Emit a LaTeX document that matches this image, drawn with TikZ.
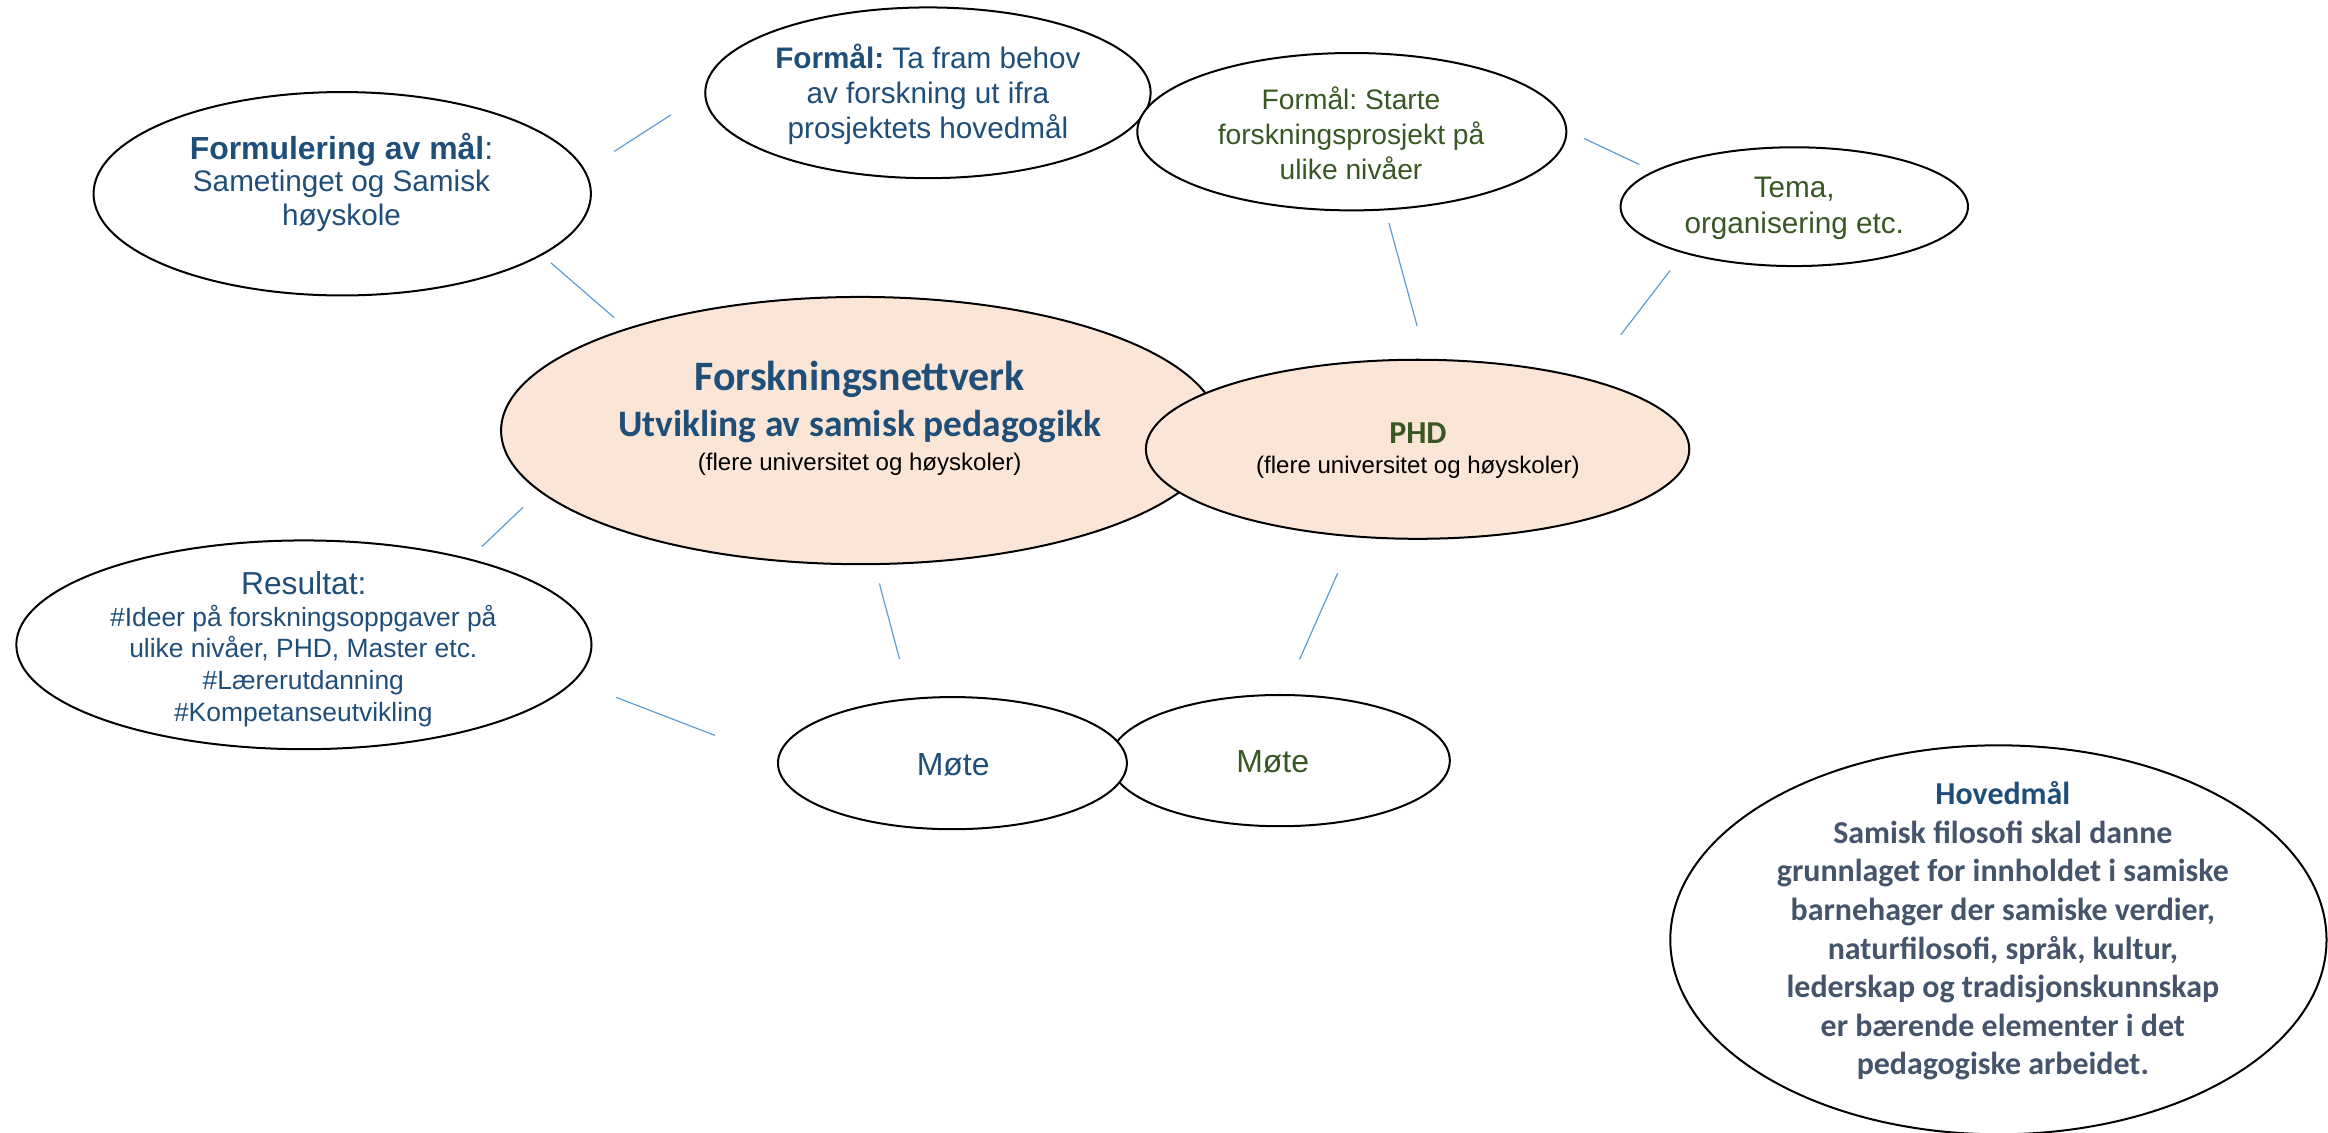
\documentclass[tikz,border=0pt]{standalone}
\usepackage{fontspec}
\setmainfont{Liberation Sans}
\newfontfamily\calibri{Carlito}
\usetikzlibrary{shapes.geometric}
\definecolor{tblue}{HTML}{1F4E79}
\definecolor{tgreen}{HTML}{385723}
\definecolor{tslate}{HTML}{44546A}
\definecolor{hubfill}{HTML}{FBE5D6}
\definecolor{linkblue}{HTML}{5B9BD5}
\newcommand{\fs}[2]{\fontsize{#1}{#2}\selectfont}
\frenchspacing
\begin{document}
\begin{tikzpicture}[x=1pt,y=-1pt,
  bubble/.style={ellipse, draw=black, line width=1.35pt, fill=white, inner sep=0pt},
  hub/.style={bubble, fill=hubfill},
  link/.style={draw=linkblue, line width=0.8pt},
  txt/.style={inner sep=0pt, align=center}]
\path[use as bounding box] (0,0) rectangle (1568,763);
\clip (0,0) rectangle (1568,763);

% ellipses
\node[bubble, minimum width=335pt, minimum height=137pt] (form) at (230.5,130.5) {};
\node[bubble, minimum width=300pt, minimum height=115pt] (tafram) at (625,62.5) {};
\node[bubble, minimum width=289pt, minimum height=106pt] (starte) at (910.5,88.7) {};
\node[bubble, minimum width=234pt, minimum height=80pt] (tema) at (1208.5,139.2) {};
\node[hub, minimum width=484pt, minimum height=180pt] (main) at (579.5,290) {};
\node[hub, minimum width=366pt, minimum height=120.6pt] (phd) at (954.8,302.6) {};
\node[bubble, minimum width=387.4pt, minimum height=140.6pt] (res) at (204.7,434.3) {};
\node[bubble, minimum width=229pt, minimum height=88.4pt] (moteg) at (862,512.3) {};
\node[bubble, minimum width=235pt, minimum height=89pt] (moteb) at (641.5,514) {};
\node[bubble, minimum width=442pt, minimum height=262pt] (hoved) at (1346,633) {};

% texts
\node[txt, text=tblue, font=\fs{21.5}{24}] (formh) at (230,100.6) {\textbf{Formulering av mål}:};
\node[txt, text=tblue, font=\fs{20}{23.2}] (formb) at (230,135.3) {Sametinget og Samisk\\høyskole};
\node[txt, text=tblue, font=\fs{20}{23.6}] (taframt) at (625,63.6) {\textbf{Formål:} Ta fram behov\\av forskning ut ifra\\prosjektets hovedmål};
\node[txt, text=tgreen, font=\fs{19}{23.5}] (startet) at (910,90) {Formål: Starte\\forskningsprosjekt på\\ulike nivåer};
\node[txt, text=tgreen, font=\fs{20}{24.5}] (temat) at (1208.5,140.4) {Tema,\\organisering etc.};
\node[txt, text=tblue, font=\calibri\bfseries\fs{28.2}{30}] (maint1) at (579,255.2) {Forskningsnettverk};
\node[txt, text=tblue, font=\calibri\bfseries\fs{25.2}{28}] (maint2) at (579,287.4) {Utvikling av samisk pedagogikk};
\node[txt, text=black, font=\fs{16.2}{19}] (maint3) at (579,312.4) {(flere universitet og høyskoler)};
\node[txt, text=tgreen, font=\calibri\bfseries\fs{21.5}{24}] (phdt1) at (955,292) {PHD};
\node[txt, text=black, font=\fs{16.2}{19}] (phdt2) at (955,315) {(flere universitet og høyskoler)};
\node[txt, text=tblue, font=\fs{21.4}{24}] (resh) at (204.6,392.5) {Resultat:};
\node[txt, text=tblue, font=\fs{17.8}{21.5}] (resb) at (204.3,448.6) {\#Ideer på forskningsoppgaver på\\ulike nivåer, PHD, Master etc.\\\#Lærerutdanning\\\#Kompetanseutvikling};
\node[txt, text=tblue, font=\fs{21.5}{24}] (motebt) at (642,514.9) {Møte};
\node[txt, text=tgreen, font=\fs{21.5}{24}] (motegt) at (857.2,513) {Møte};
\node[txt, text=tslate, font=\calibri\bfseries\fs{21.5}{26}] (hovedt) at (1349,627) {\textcolor{tblue}{Hovedmål}\\Samisk filosofi skal danne\\grunnlaget for innholdet i samiske\\barnehager der samiske verdier,\\naturfilosofi, språk, kultur,\\lederskap og tradisjonskunnskap\\er bærende elementer i det\\pedagogiske arbeidet.};

% connectors
\coordinate (l1a) at (413.7,102); \coordinate (l1b) at (452,77.3);
\coordinate (l2a) at (371,177); \coordinate (l2b) at (413.7,214);
\coordinate (l3a) at (352.4,341.6); \coordinate (l3b) at (324.7,368);
\coordinate (l4a) at (415,469.7); \coordinate (l4b) at (481.5,495.3);
\coordinate (l5a) at (592.3,393); \coordinate (l5b) at (605.9,444);
\coordinate (l6a) at (901,386); \coordinate (l6b) at (875.3,444.2);
\coordinate (l7a) at (935.5,150.3); \coordinate (l7b) at (954.5,219.6);
\coordinate (l8a) at (1067,93.3); \coordinate (l8b) at (1104.2,110.8);
\coordinate (l9a) at (1124.8,182.3); \coordinate (l9b) at (1091.6,225.6);
\foreach \i in {1,...,9} {\draw[link] (l\i a) -- (l\i b);}
\end{tikzpicture}
\end{document}
